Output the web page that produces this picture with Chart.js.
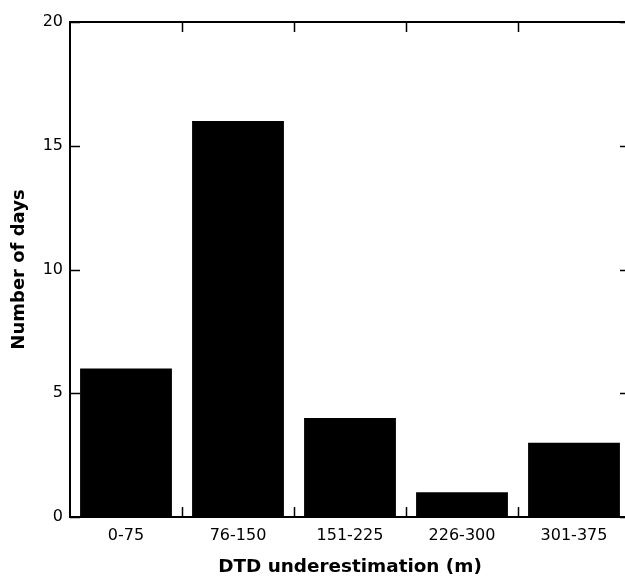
<!DOCTYPE html>
<html>
<head>
<meta charset="utf-8">
<script src="https://cdn.jsdelivr.net/npm/chart.js@4/dist/chart.umd.min.js"></script>
<style>
html,body{margin:0;padding:0;background:#fff;overflow:hidden;}
#wrap{position:relative;width:640px;height:578px;}
</style>
</head>
<body>
<div id="wrap"><canvas id="c"></canvas></div>
<script>
const categories = ['0-75', '76-150', '151-225', '226-300', '301-375'];
const days = [6, 16, 4, 1, 3];
const yTicks = [0, 5, 10, 15, 20];
const xTitle = 'DTD underestimation (m)';
const yTitle = 'Number of days';

const FONT = '"DejaVu Sans", "Liberation Sans", Arial, sans-serif';

const framePlugin = {
  id: 'frame',
  afterDatasetsDraw(chart) {
    const {ctx, chartArea: a, scales: {x, y}} = chart;
    ctx.save();
    ctx.strokeStyle = '#000';
    ctx.lineWidth = 1.5;
    const L = 10;
    ctx.beginPath();
    yTicks.forEach(v => {
      const py = Math.round(y.getPixelForValue(v)) + 0.5;
      ctx.moveTo(a.left, py); ctx.lineTo(a.left + L, py);
      ctx.moveTo(a.right, py); ctx.lineTo(a.right - L, py);
    });
    for (let i = 0; i < categories.length - 1; i++) {
      const px = Math.round((x.getPixelForValue(i) + x.getPixelForValue(i + 1)) / 2) + 0.5;
      ctx.moveTo(px, a.top); ctx.lineTo(px, a.top + L);
      ctx.moveTo(px, a.bottom); ctx.lineTo(px, a.bottom - L);
    }
    ctx.stroke();
    ctx.lineWidth = 2;
    ctx.strokeRect(a.left, a.top, a.right - a.left, a.bottom - a.top);
    ctx.restore();
  }
};

new Chart(document.getElementById('c'), {
  type: 'bar',
  data: {
    labels: categories,
    datasets: [{
      data: days,
      backgroundColor: '#000',
      borderWidth: 0,
      barPercentage: 0.82,
      categoryPercentage: 1.0
    }]
  },
  options: {
    responsive: true,
    maintainAspectRatio: false,
    animation: false,
    devicePixelRatio: 1,
    layout: {padding: {top: 22, right: 10, bottom: 0, left: 0}},
    plugins: {legend: {display: false}, tooltip: {enabled: false}},
    scales: {
      x: {
        grid: {display: false, drawTicks: false},
        border: {display: false},
        ticks: {color: '#000', font: {family: FONT, size: 16}, padding: 9, maxRotation: 0},
        title: {display: true, text: xTitle, color: '#000', font: {family: FONT, size: 18.4, weight: 'bold'}, padding: {top: 0, bottom: 0}},
        afterFit(s) { s.height = 61; }
      },
      y: {
        min: 0, max: 20,
        grid: {display: false, drawTicks: false},
        border: {display: false},
        ticks: {stepSize: 5, color: '#000', font: {family: FONT, size: 16}, padding: 7},
        title: {display: true, text: yTitle, color: '#000', font: {family: FONT, size: 18, weight: 'bold'}, padding: {top: 9, bottom: 0}},
        afterFit(s) { s.width = 70; }
      }
    }
  },
  plugins: [framePlugin]
});
</script>
</body>
</html>
